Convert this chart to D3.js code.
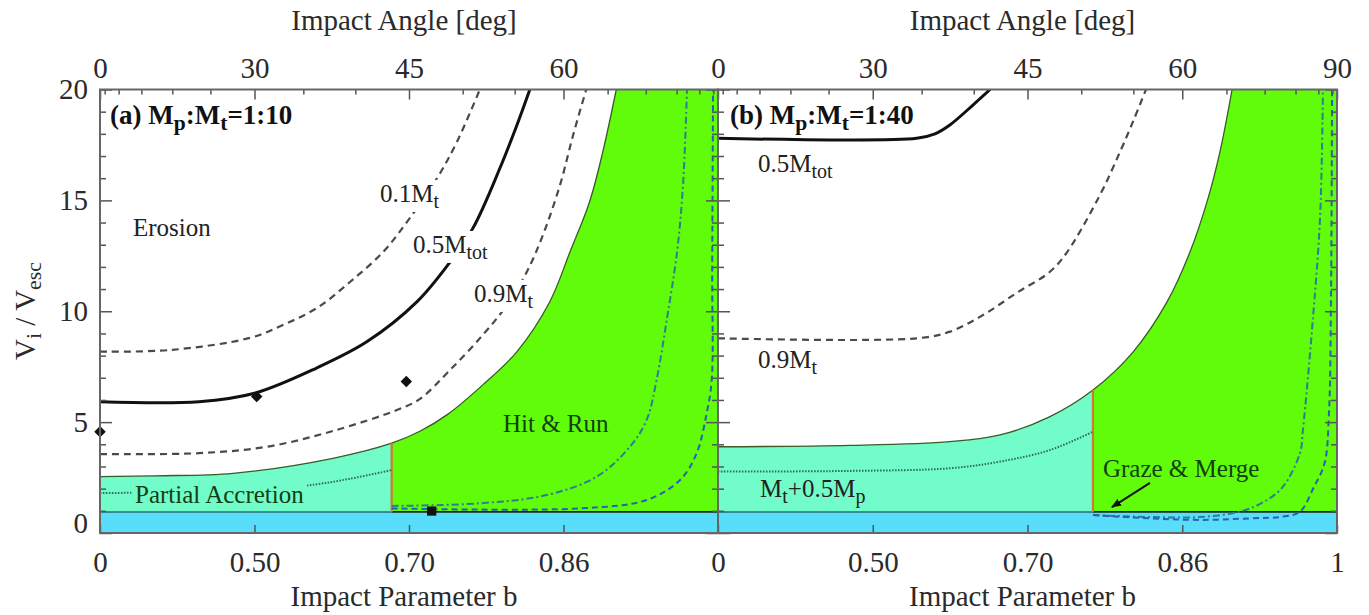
<!DOCTYPE html>
<html>
<head>
<meta charset="utf-8">
<script src="https://cdn.jsdelivr.net/npm/d3@7"></script>
<style>
body { margin: 0; background: #fff; }
svg text { font-family: "Liberation Serif", "Times New Roman", serif; }
</style>
</head>
<body>
<div id="chart"></div>
<script>
var width = 1369,
	height = 615;

// Ticks
var angleMajor = [0, 30, 45, 60, 90];
var angleMinor = [5, 10, 15, 20, 25, 35, 40, 50, 55, 65, 70, 75, 80, 85];
var bMajor = [0, 0.5, Math.SQRT1_2, Math.sqrt(3) / 2, 1];
var bLabels = ["0", "0.50", "0.70", "0.86", "1"];
var vMajor = [0, 5, 10, 15, 20];
var vMinor = [1, 2, 3, 4, 6, 7, 8, 9, 11, 12, 13, 14, 16, 17, 18, 19];

// Regime limits, [b, Vi/Vesc]
var bandTop = 0.95;
var bOrangeA = 0.687;
var bOrangeB = 0.7783;

// (a) Mp:Mt = 1:10
var boundaryA = [[0, 2.54], [0.30, 2.58], [0.464, 2.69], [0.614, 3.37], [0.687, 4.05], [0.72, 4.6], [0.75, 5.35],
	[0.787, 6.68], [0.821, 8.16], [0.853, 10.42], [0.872, 12.67], [0.890, 14.93], [0.902, 17.19], [0.914, 20]];
var mTot05A = [[0, 5.92], [0.40, 5.92], [0.50, 6.3], [0.592, 7.44], [0.657, 8.62], [0.716, 10.42], [0.7526, 12.22],
	[0.777, 13.76], [0.8045, 16.46], [0.8214, 18.4], [0.834, 20]];
var mt01A = [[0, 8.18], [0.336, 8.25], [0.4927, 8.8], [0.544, 9.38], [0.5926, 10.15], [0.636, 11.32], [0.6767, 12.67],
	[0.708, 14.2], [0.7385, 16.0], [0.760, 17.64], [0.784, 20]];
var mt09A = [[0, 3.56], [0.40, 3.6], [0.52, 3.89], [0.614, 4.6], [0.6967, 5.6], [0.7196, 6.05], [0.7526, 7.35],
	[0.787, 8.93], [0.8115, 10.28], [0.831, 11.77], [0.8466, 13.44], [0.8628, 15.7], [0.875, 17.95], [0.887, 20]];
var dottedA = [[0, 1.8], [0.45, 1.9], [0.573, 2.12], [0.635, 2.44], [0.687, 2.84]];
var dashDotA = [[0.687, 1.22], [0.784, 1.34], [0.850, 1.71], [0.8965, 2.54], [0.926, 3.89], [0.9405, 5.1],
	[0.949, 6.9], [0.9579, 9.7], [0.9663, 12.67], [0.9713, 15.7], [0.9746, 20]];
var dashedA = [[0.687, 1.11], [0.8813, 1.11], [0.9405, 1.49], [0.9688, 2.39], [0.9826, 3.6], [0.9908, 5.4],
	[0.9949, 6.9], [0.9953, 12], [0.996, 20]];
var diamondsA = [[0, 4.57], [0.5036, 6.15], [0.704, 6.83]];
var squaresA = [[0.7326, 0.99]];

// (b) Mp:Mt = 1:40
var boundaryB = [[0, 3.89], [0.4618, 3.95], [0.6122, 4.12], [0.675, 4.42], [0.7323, 5.25], [0.7783, 6.45],
	[0.8188, 8.16], [0.8517, 10.42], [0.8732, 12.67], [0.8888, 14.93], [0.9005, 17.19], [0.9113, 20]];
var mTot05B = [[0, 17.8], [0.5666, 17.8], [0.592, 18.0], [0.612, 18.4], [0.6418, 19.3], [0.663, 20]];
var mt09B = [[0, 8.78], [0.5666, 8.78], [0.6122, 9.08], [0.6543, 9.83], [0.6947, 10.83], [0.7323, 11.78],
	[0.751, 12.67], [0.7856, 15.25], [0.8059, 17.19], [0.8195, 18.63], [0.8315, 20]];
var dottedB = [[0, 2.77], [0.4618, 2.8], [0.6122, 2.92], [0.675, 3.22], [0.7323, 3.74], [0.7783, 4.57]];
var dashDotB = [[0.7783, 0.81], [0.8354, 0.72], [0.8824, 0.72], [0.9209, 1.0], [0.9418, 1.49], [0.9554, 2.09],
	[0.9696, 3.6], [0.9721, 4.65], [0.9804, 9.7], [0.9862, 14.2], [0.9886, 20]];
var dashedB = [[0.7783, 0.81], [0.8354, 0.66], [0.8824, 0.59], [0.9271, 0.66], [0.9554, 0.74], [0.9696, 0.96],
	[0.9813, 2.09], [0.9899, 3.14], [0.9935, 5.41], [0.9951, 10.5], [0.996, 20]];

// Colours
var cBand = "#58ddfb",
	cAccr = "#72fcca",
	cHit = "#60fc0a",
	cOrange = "#cf7a2c",
	cDash = "#2b5fb3",
	cDashDot = "#2c7d95",
	cRegion = "#123f12";

var svg = d3.select("#chart")
	.append("svg")
	.attr("width", width)
	.attr("height", height);

svg.append("defs").append("marker")
	.attr("id", "arrow")
	.attr("viewBox", "0 0 10 8")
	.attr("refX", 9).attr("refY", 4)
	.attr("markerWidth", 10).attr("markerHeight", 8)
	.attr("markerUnits", "userSpaceOnUse")
	.attr("orient", "auto")
	.append("path").attr("d", "M0,0L10,4L0,8z").attr("fill", "#111");

var y = d3.scaleLinear().domain([0, 20]).range([533, 89.5]);
var smooth = d3.curveCatmullRom.alpha(0.5);

var panels = [
	{ id: "a", x0: 100, x1: 718, bOrange: bOrangeA, boundary: boundaryA, nLabels: 4, leftLabels: true,
	  solid: [mTot05A], gray: [mt01A, mt09A], dotted: dottedA, dashDot: dashDotA, dashed: dashedA },
	{ id: "b", x0: 718, x1: 1337, bOrange: bOrangeB, boundary: boundaryB, nLabels: 5, leftLabels: false,
	  solid: [mTot05B], gray: [mt09B], dotted: dottedB, dashDot: dashDotB, dashed: dashedB }
];

// text with subscripts, optional background box
function addLabel(g, px, py, parts, o) {
	o = o || {};
	var t = g.append("text")
		.attr("x", px).attr("y", py)
		.attr("font-size", o.size || 25)
		.attr("fill", o.color || "#222")
		.attr("font-weight", o.bold ? "bold" : null);
	var low = false;
	parts.forEach(function(pt) {
		var ts = t.append("tspan");
		if (typeof pt === "string") {
			if (low) ts.attr("dy", -6);
			low = false;
			ts.text(pt);
		} else {
			ts.attr("font-size", "80%").attr("dy", low ? 0 : 6).text(pt.sub);
			low = true;
		}
	});
	if (o.bg) {
		var bb = t.node().getBBox();
		g.insert("rect", function() { return t.node(); })
			.attr("x", bb.x - 3).attr("y", bb.y)
			.attr("width", bb.width + 6).attr("height", bb.height)
			.attr("fill", o.bg);
	}
	return t;
}

panels.forEach(function(p) {
	var x = d3.scalePow().exponent(2).domain([0, 1]).range([p.x0, p.x1]);
	var line = d3.line()
		.x(function(d) { return x(d[0]); })
		.y(function(d) { return y(d[1]); })
		.curve(smooth);

	svg.append("clipPath").attr("id", "clip-" + p.id)
		.append("rect")
		.attr("x", p.x0).attr("y", y(20))
		.attr("width", p.x1 - p.x0).attr("height", y(0) - y(20));

	var plot = svg.append("g").attr("clip-path", "url(#clip-" + p.id + ")");

	// regimes
	plot.append("rect")
		.attr("x", x(0)).attr("y", y(20))
		.attr("width", x(p.bOrange) - x(0)).attr("height", y(bandTop) - y(20))
		.attr("fill", cAccr);
	plot.append("rect")
		.attr("x", x(p.bOrange)).attr("y", y(20))
		.attr("width", x(1) - x(p.bOrange)).attr("height", y(bandTop) - y(20))
		.attr("fill", cHit);
	plot.append("path")
		.datum(p.boundary)
		.attr("d", d3.area()
			.x(function(d) { return x(d[0]); })
			.y0(y(20))
			.y1(function(d) { return y(d[1]); })
			.curve(smooth))
		.attr("fill", "#fff");
	plot.append("rect")
		.attr("x", x(0)).attr("y", y(bandTop))
		.attr("width", x(1) - x(0)).attr("height", y(0) - y(bandTop))
		.attr("fill", cBand);
	plot.append("line")
		.attr("x1", x(0)).attr("x2", x(p.bOrange))
		.attr("y1", y(bandTop)).attr("y2", y(bandTop))
		.attr("stroke", "#2a6d70").attr("stroke-width", 1.5);
	plot.append("line")
		.attr("x1", x(p.bOrange)).attr("x2", x(1))
		.attr("y1", y(bandTop)).attr("y2", y(bandTop))
		.attr("stroke", "#1a2a1a").attr("stroke-width", 1.8);

	plot.append("path").datum(p.boundary).attr("d", line)
		.attr("fill", "none").attr("stroke", "#3a5a28").attr("stroke-width", 1.3);

	var bO = p.boundary.filter(function(d) { return d[0] === p.bOrange; })[0];
	plot.append("line")
		.attr("x1", x(p.bOrange)).attr("x2", x(p.bOrange))
		.attr("y1", y(bandTop)).attr("y2", y(bO[1]))
		.attr("stroke", cOrange).attr("stroke-width", 2.2);

	plot.append("path").datum(p.dotted).attr("d", line)
		.attr("fill", "none").attr("stroke", "#2f6a5c").attr("stroke-width", 2)
		.attr("stroke-dasharray", "1.5,1.5");

	p.gray.forEach(function(s) {
		plot.append("path").datum(s).attr("d", line)
			.attr("fill", "none").attr("stroke", "#4a4a4a").attr("stroke-width", 2.2)
			.attr("stroke-dasharray", "7,5");
	});
	p.solid.forEach(function(s) {
		plot.append("path").datum(s).attr("d", line)
			.attr("fill", "none").attr("stroke", "#111").attr("stroke-width", 3);
	});

	plot.append("path").datum(p.dashDot).attr("d", line)
		.attr("fill", "none").attr("stroke", cDashDot).attr("stroke-width", 2)
		.attr("stroke-dasharray", "7,3,2,3");
	plot.append("path").datum(p.dashed).attr("d", line)
		.attr("fill", "none").attr("stroke", cDash).attr("stroke-width", 2)
		.attr("stroke-dasharray", "6,4");

	if (p.id === "a") {
		svg.append("g").selectAll("path")
			.data(diamondsA).enter().append("path")
			.attr("d", d3.symbol(d3.symbolSquare, 66))
			.attr("transform", function(d) { return "translate(" + x(d[0]) + "," + y(d[1]) + ") rotate(45)"; })
			.attr("fill", "#111");
		svg.append("g").selectAll("path")
			.data(squaresA).enter().append("path")
			.attr("d", d3.symbol(d3.symbolSquare, 85))
			.attr("transform", function(d) { return "translate(" + x(d[0]) + "," + y(d[1]) + ")"; })
			.attr("fill", "#111");

		addLabel(plot, p.x0 + 10, y(20) + 34, ["(a) M", {sub: "p"}, ":M", {sub: "t"}, "=1:10"],
			{bold: true, size: 27, color: "#111"});
		addLabel(plot, x(0.231), y(13.4), ["Erosion"]);
		addLabel(plot, x(0.673), y(14.93), ["0.1M", {sub: "t"}], {bg: "#fff"});
		addLabel(plot, x(0.7117), y(12.63), ["0.5M", {sub: "tot"}], {bg: "#fff"});
		addLabel(plot, x(0.778), y(10.42), ["0.9M", {sub: "t"}], {bg: "#fff"});
		addLabel(plot, x(0.8075), y(4.56), ["Hit & Run"], {color: cRegion});
		addLabel(plot, x(0.238), y(1.35), ["Partial Accretion"], {color: cRegion, bg: cAccr});
	} else {
		addLabel(plot, p.x0 + 12, y(20) + 34, ["(b) M", {sub: "p"}, ":M", {sub: "t"}, "=1:40"],
			{bold: true, size: 27, color: "#111"});
		addLabel(plot, x(0.254), y(16.28), ["0.5M", {sub: "tot"}]);
		addLabel(plot, x(0.254), y(7.44), ["0.9M", {sub: "t"}]);
		addLabel(plot, x(0.2605), y(1.62), ["M", {sub: "t"}, "+0.5M", {sub: "p"}]);
		addLabel(plot, x(0.7886), y(2.53), ["Graze & Merge"], {color: cRegion});
		plot.append("line")
			.attr("x1", x(0.8354)).attr("y1", y(2.26))
			.attr("x2", x(0.7978)).attr("y2", y(1.17))
			.attr("stroke", "#111").attr("stroke-width", 2)
			.attr("marker-end", "url(#arrow)");
	}

	// axes
	var rad = function(d) { return Math.sin(d * Math.PI / 180); };
	var ax = svg.append("g");
	ax.append("g").attr("transform", "translate(0," + y(20) + ")")
		.call(d3.axisTop(x).tickValues(angleMinor.map(rad)).tickSize(-5).tickFormat(""));
	ax.append("g").attr("transform", "translate(0," + y(20) + ")")
		.call(d3.axisTop(x).tickValues(angleMajor.map(rad)).tickSize(-10).tickPadding(12)
			.tickFormat(function(d, i) { return i < p.nLabels ? angleMajor[i] : ""; }));
	ax.append("g").attr("transform", "translate(0," + y(0) + ")")
		.call(d3.axisBottom(x).tickValues(bMajor).tickSize(-8).tickPadding(18)
			.tickFormat(function(d, i) { return i < p.nLabels ? bLabels[i] : ""; }));

	ax.append("g").attr("transform", "translate(" + p.x0 + ",0)")
		.call(d3.axisLeft(y).tickValues(vMinor).tickSize(-6).tickFormat(""));
	var left = ax.append("g").attr("transform", "translate(" + p.x0 + ",0)")
		.call(d3.axisLeft(y).tickValues(vMajor).tickSize(-12).tickPadding(12)
			.tickFormat(p.leftLabels ? d3.format("d") : ""));
	left.selectAll(".tick text").filter(function(d) { return d === 0; }).attr("y", -10);
	ax.append("g").attr("transform", "translate(" + p.x1 + ",0)")
		.call(d3.axisRight(y).tickValues(vMinor).tickSize(-6).tickFormat(""));
	ax.append("g").attr("transform", "translate(" + p.x1 + ",0)")
		.call(d3.axisRight(y).tickValues(vMajor).tickSize(-12).tickFormat(""));

	ax.selectAll(".domain").remove();
	ax.selectAll(".tick line").attr("stroke", "#555").attr("stroke-width", 1.5);
	ax.selectAll(".tick text")
		.attr("font-size", 29)
		.attr("fill", "#2a2a2a")
		.attr("font-family", "Liberation Serif, Times New Roman, serif");

	svg.append("rect")
		.attr("x", p.x0).attr("y", y(20))
		.attr("width", p.x1 - p.x0).attr("height", y(0) - y(20))
		.attr("fill", "none").attr("stroke", "#666").attr("stroke-width", 2);

	var cx = (p.x0 + p.x1) / 2 - 5;
	svg.append("text").attr("x", cx).attr("y", 30)
		.attr("text-anchor", "middle").attr("font-size", 29).attr("fill", "#2a2a2a")
		.text("Impact Angle [deg]");
	svg.append("text").attr("x", cx).attr("y", 606)
		.attr("text-anchor", "middle").attr("font-size", 29).attr("fill", "#2a2a2a")
		.text("Impact Parameter b");
});

// y axis title
var yt = svg.append("text")
	.attr("transform", "translate(35,311) rotate(-90)")
	.attr("text-anchor", "middle")
	.attr("font-size", 29)
	.attr("fill", "#2a2a2a");
yt.append("tspan").text("V");
yt.append("tspan").attr("font-size", "75%").attr("dy", 6).text("i");
yt.append("tspan").attr("dy", -6).text(" / V");
yt.append("tspan").attr("font-size", "75%").attr("dy", 6).text("esc");
</script>
</body>
</html>
